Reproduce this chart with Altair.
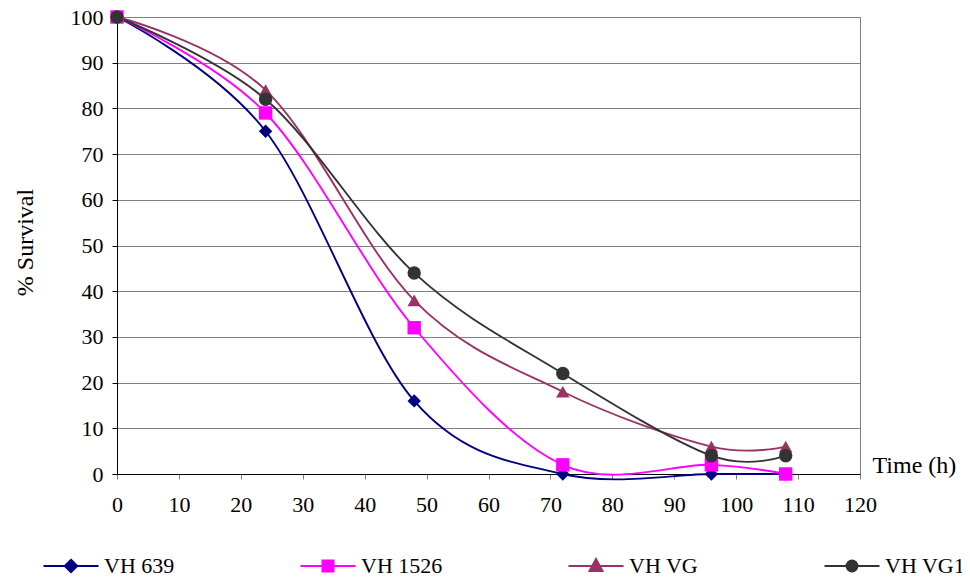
import altair as alt
import pandas as pd

series = ["VH 639", "VH 1526", "VH VG", "VH VG1"]
colors = ["#000080", "#FF00FF", "#993366", "#333333"]
shapes = ["diamond", "square", "triangle-up", "circle"]
hours = [0, 24, 48, 72, 96, 108]
vh639 = [100, 75, 16, 0, 0, 0]
vh1526 = [100, 79, 32, 2, 2, 0]
vhvg = [100, 84, 38, 18, 6, 6]
vhvg1 = [100, 82, 44, 22, 4, 4]
x_ticks = list(range(0, 121, 10))
y_ticks = list(range(0, 101, 10))

# legend glyphs: a short line with a solid marker (drawn as nested outlines)
LINE = "M-2.75,0H2.75"
steps = [1.0, 0.75, 0.5, 0.25]
diamond_p = LINE + "".join(
    "M0,%.3fL%.3f,0L0,%.3fL%.3f,0Z" % (-0.62 * s, 0.62 * s, 0.62 * s, -0.62 * s) for s in steps)
square_p = LINE + "".join(
    "M%.3f,%.3fH%.3fV%.3fH%.3fZ" % (-0.55 * s, -0.55 * s, 0.55 * s, 0.55 * s, -0.55 * s) for s in steps)
triangle_p = LINE + "".join(
    "M0,%.3fL%.3f,%.3fH%.3fZ" % (0.1 - 0.8 * s, 0.65 * s, 0.1 + 0.4 * s, -0.65 * s) for s in steps)
circle_p = LINE + "".join(
    "M%.3f,0A%.3f,%.3f 0 1,0 %.3f,0A%.3f,%.3f 0 1,0 %.3f,0Z"
    % (-0.55 * s, 0.55 * s, 0.55 * s, 0.55 * s, 0.55 * s, 0.55 * s, -0.55 * s) for s in steps)
legend_paths = [diamond_p, square_p, triangle_p, circle_p]

rows = []
for name, vals in zip(series, [vh639, vh1526, vhvg, vhvg1]):
    for h, v in zip(hours, vals):
        rows.append({"series": name, "hour": h, "survival": v})
df = pd.DataFrame(rows)

FONT = "Liberation Serif"

x_enc = alt.X(
    "hour:Q",
    scale=alt.Scale(domain=[0, 120], nice=False),
    axis=alt.Axis(
        values=x_ticks, grid=False, title="Time (h)", tickSize=5,
        tickColor="#808080", domainColor="#000000", labelPadding=15,
        labelFlush=False,
        labelFontSize=22, labelFont=FONT, labelColor="#000000",
        titleFont=FONT, titleFontSize=24, titleFontWeight="normal",
        titleColor="#000000", titleX=755, titleY=-9, titleAlign="left",
        titleBaseline="middle", titleAngle=0,
    ),
)
y_enc = alt.Y(
    "survival:Q",
    scale=alt.Scale(domain=[0, 100], nice=False),
    axis=alt.Axis(
        values=y_ticks, grid=True, gridColor="#808080", gridWidth=1,
        title="% Survival", tickSize=5, tickColor="#000000",
        domainColor="#000000", labelPadding=9, labelFontSize=22,
        labelFlush=False,
        labelFont=FONT, labelColor="#000000", titleFont=FONT,
        titleFontSize=24, titleFontWeight="normal", titleColor="#000000",
        titleX=-92, titleY=225, titleAngle=270, titleAlign="center",
        titleBaseline="middle",
    ),
)

color_scale = alt.Scale(domain=series, range=colors)

lines = alt.Chart(df).mark_line(
    interpolate="cardinal", tension=0, strokeWidth=1.9
).encode(
    x=x_enc, y=y_enc,
    color=alt.Color("series:N", scale=color_scale, legend=None),
    detail="series:N",
)

points = alt.Chart(df).mark_point(filled=True, opacity=1, size=180).encode(
    x=x_enc, y=y_enc,
    color=alt.Color("series:N", scale=color_scale, legend=None),
    shape=alt.Shape("series:N", scale=alt.Scale(domain=series, range=shapes), legend=None),
)

main = alt.layer(lines, points)


def legend_spec():
    return alt.Legend(
        title=None, orient="none", legendX=-57, legendY=538,
        direction="horizontal", columns=4, symbolSize=400,
        symbolStrokeWidth=2, labelOffset=22, columnPadding=121,
        labelFont=FONT, labelFontSize=22, labelColor="#000000",
        padding=0, symbolOpacity=1,
    )


legend_layer = alt.Chart(df).transform_filter("datum.hour < 0").mark_point(
    filled=False, opacity=1, strokeWidth=2
).encode(
    color=alt.Color("series:N", scale=alt.Scale(domain=series, range=colors),
                    legend=legend_spec()),
    shape=alt.Shape("series:N", scale=alt.Scale(domain=series, range=legend_paths),
                    legend=legend_spec()),
)

chart = alt.layer(main, legend_layer).resolve_scale(
    color="independent", shape="independent"
).properties(
    width=743, height=457,
    autosize=alt.AutoSizeParams(type="none"),
    padding={"left": 109, "top": 9, "right": 102, "bottom": 102},
    background="white",
).configure_view(stroke="#808080", strokeWidth=1)

chart.save("out.html", embed_options={"renderer": "svg", "actions": False})
